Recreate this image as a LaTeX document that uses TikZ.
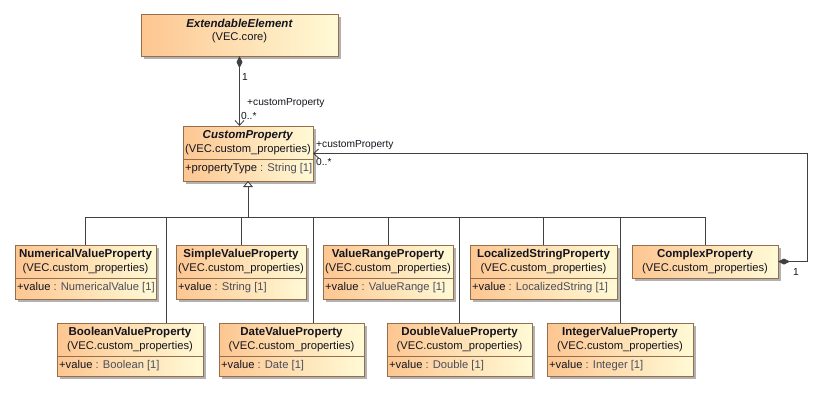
\documentclass[tikz,border=0pt]{standalone}
\usepackage{fontspec}
\setmainfont{Liberation Sans}
\usetikzlibrary{arrows.meta}

\definecolor{clsL}{RGB}{253,198,145}
\definecolor{clsR}{RGB}{255,250,214}
\definecolor{clsB}{RGB}{150,110,76}
\definecolor{shad}{RGB}{178,178,178}
\definecolor{linec}{RGB}{64,64,64}
\definecolor{typec}{RGB}{75,78,92}
\definecolor{textc}{RGB}{20,20,30}

\tikzset{
  classbody/.style={draw=clsB, line width=1pt, left color=clsL, right color=clsR,
    inner sep=0pt, outer sep=0pt, anchor=north west},
  classshadow/.style={fill=shad},
  ctitle/.style={font=\fontsize{11.5}{13}\selectfont\bfseries, text=textc, inner sep=0pt},
  cpkg/.style={font=\fontsize{11.2}{13}\selectfont, text=textc, inner sep=0pt},
  cattr/.style={font=\fontsize{11.2}{13}\selectfont, text=textc, inner sep=0pt, anchor=west},
  rolelabel/.style={font=\fontsize{10.2}{12}\selectfont, text=textc, inner sep=0pt, anchor=west},
  conn/.style={draw=linec, line width=0.9pt},
  gentip/.style={-{Triangle[open, fill=white, length=6pt, width=10pt]}},
}

% #1 node name, #2 left, #3 top, #4 right, #5 bottom,
% #6 class name, #7 package, #8 attribute (empty: no attribute compartment)
\newcommand\umlclass[8]{%
  \fill[classshadow] ({#2+3},{#3+3}) rectangle ({#4+3},{#5+3});
  \node[classbody, minimum width={(#4-#2)*1pt}, minimum height={(#5-#3)*1pt}] (#1) at (#2,#3) {};
  \node[ctitle] at ({(#2+#4)/2},{#3+9.5}) {#6};
  \node[cpkg] at ({(#2+#4)/2},{#3+24}) {(#7)};
  \def\attrtext{#8}%
  \ifx\attrtext\empty\else
    \draw[draw=clsB, line width=1pt] (#2,{#3+33}) -- (#4,{#3+33});
    \node[cattr] at ({#2+2},{#3+42.5}) {#8};
  \fi
}
\newcommand\attr[2]{+#1 \textcolor{typec}{: #2 [1]}}

\begin{document}
\begin{tikzpicture}[x=1pt, y=-1pt]
  \useasboundingbox (0,0) rectangle (831,392);

  % classes
  \umlclass{ext}{141}{14}{338}{56}{\textit{ExtendableElement}}{VEC.core}{}
  \umlclass{cp}{183}{126}{313}{181}{\textit{CustomProperty}}{VEC.custom\_properties}{\attr{propertyType}{String}}

  \umlclass{num}{15}{245}{156}{299}{NumericalValueProperty}{VEC.custom\_properties}{\attr{value}{NumericalValue}}
  \umlclass{simple}{176}{245}{306}{299}{SimpleValueProperty}{VEC.custom\_properties}{\attr{value}{String}}
  \umlclass{range}{323}{245}{453}{299}{ValueRangeProperty}{VEC.custom\_properties}{\attr{value}{ValueRange}}
  \umlclass{locstr}{470}{245}{617}{299}{LocalizedStringProperty}{VEC.custom\_properties}{\attr{value}{LocalizedString}}
  \umlclass{complex}{632}{245}{778}{278}{ComplexProperty}{VEC.custom\_properties}{}

  \umlclass{bool}{57}{323}{203}{376}{BooleanValueProperty}{VEC.custom\_properties}{\attr{value}{Boolean}}
  \umlclass{date}{219}{323}{364}{376}{DateValueProperty}{VEC.custom\_properties}{\attr{value}{Date}}
  \umlclass{double}{387}{323}{532}{376}{DoubleValueProperty}{VEC.custom\_properties}{\attr{value}{Double}}
  \umlclass{integer}{547}{323}{693}{376}{IntegerValueProperty}{VEC.custom\_properties}{\attr{value}{Integer}}

  % composition ExtendableElement -> CustomProperty
  \draw[conn, {Diamond[fill=linec, length=12pt, width=6pt]}-{Straight Barb[length=5pt, width=9pt, line width=0.8pt]}]
    (ext.south) -- (ext.south |- cp.north);
  \node[rolelabel] (r1) at (242,77) {1};
  \node[rolelabel] (r2) at (247,103) {+customProperty};
  \node[rolelabel] (r3) at (241,116) {0..*};

  % composition ComplexProperty -> CustomProperty
  \coordinate (loop) at (807,153.5);
  \draw[conn, {Straight Barb[length=5pt, width=9pt, line width=0.8pt]}-{Diamond[fill=linec, length=12pt, width=6pt]}]
    (cp.east) -- (cp.east -| loop) |- (complex.east);
  \node[rolelabel] (r4) at (316,145) {+customProperty};
  \node[rolelabel] (r5) at (316,162) {0..*};
  \node[rolelabel] (r6) at (793,272) {1};

  % generalization tree
  \coordinate (hub) at (248,217);
  \draw[conn, gentip] (hub) -- (cp.south);
  \draw[conn] (hub) -| (num.north);
  \draw[conn] (hub) -| ([xshift=36pt]bool.north);
  \draw[conn] (hub) -| (simple.north);
  \draw[conn] (hub) -| ([xshift=21.5pt]date.north);
  \draw[conn] (hub) -| (range.north);
  \draw[conn] (hub) -| (double.north);
  \draw[conn] (hub) -| (locstr.north);
  \draw[conn] (hub) -| (integer.north);
  \draw[conn] (hub) -| (complex.north);
\end{tikzpicture}
\end{document}
